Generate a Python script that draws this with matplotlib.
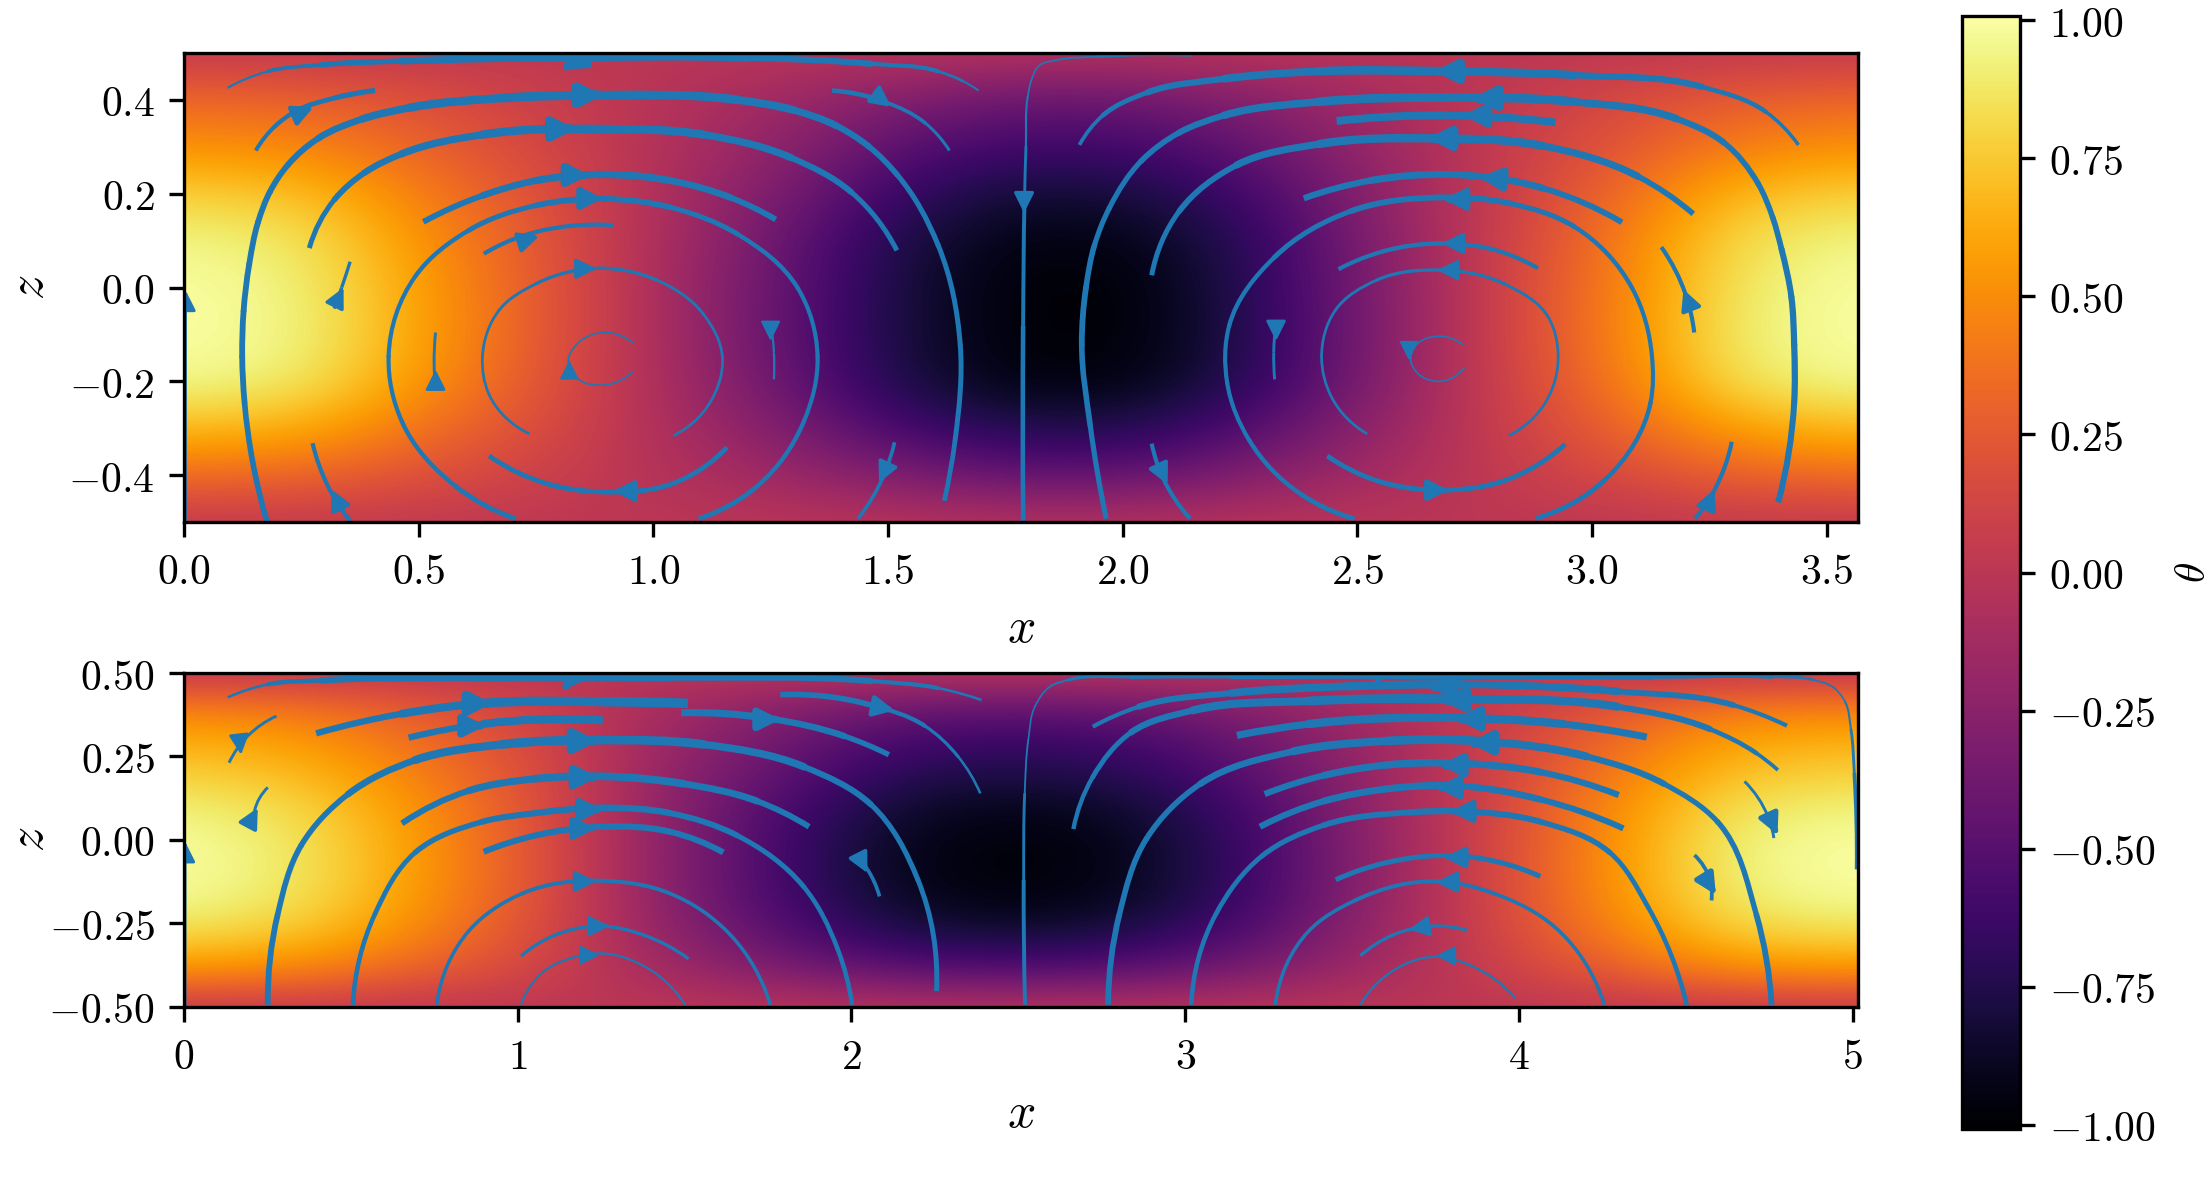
import numpy as np
import matplotlib
matplotlib.use('Agg')
import matplotlib.pyplot as plt
from matplotlib.path import Path
from matplotlib.patches import PathPatch, FancyArrowPatch

plt.rcParams['mathtext.fontset'] = 'cm'
plt.rcParams['font.family'] = 'serif'
plt.rcParams['font.size'] = 10

line_col = '#1f77b4'

# domain sizes
xmax_top = 3.567
xmax_bot = 5.016
theta_lim = 1.008

# theta, rows z=0.5 ... -0.5, 15 columns across x
theta_top = [
    [.03, .03, .02, .01, 0, -.01, -.02, -.03, -.03, -.02, -.01, 0, .01, .03, .03],
    [.33, .30, .19, .08, -.03, -.15, -.30, -.42, -.40, -.26, -.10, .03, .15, .28, .33],
    [.52, .48, .30, .13, -.05, -.23, -.50, -.62, -.60, -.42, -.16, .05, .23, .44, .52],
    [.78, .72, .43, .19, -.07, -.33, -.66, -.84, -.80, -.58, -.22, .07, .33, .70, .78],
    [.95, .88, .52, .23, -.09, -.41, -.78, -.96, -.93, -.67, -.27, .09, .41, .85, .95],
    [1.0, .93, .57, .25, -.10, -.44, -.80, -1.0, -.98, -.69, -.29, .10, .44, .90, 1.0],
    [1.0, .95, .58, .25, -.10, -.45, -.80, -1.0, -.98, -.70, -.30, .10, .45, .93, 1.0],
    [.97, .90, .53, .23, -.09, -.41, -.78, -.97, -.95, -.68, -.28, .09, .41, .88, .97],
    [.70, .64, .38, .17, -.07, -.30, -.60, -.76, -.74, -.50, -.20, .07, .30, .60, .70],
    [.35, .32, .20, .09, -.04, -.16, -.32, -.46, -.44, -.28, -.11, .04, .16, .30, .35],
    [.03, .03, .02, .01, 0, -.01, -.02, -.03, -.03, -.02, -.01, 0, .01, .03, .03],
]
theta_bot = [
    [.03, .03, .02, .01, -.01, -.02, -.03, -.03, -.03, -.02, -.01, 0, .02, .03, .03],
    [.42, .37, .23, .08, -.11, -.25, -.39, -.42, -.38, -.25, -.08, .06, .23, .40, .42],
    [.64, .56, .35, .13, -.16, -.38, -.59, -.64, -.58, -.38, -.13, .10, .35, .61, .64],
    [.78, .69, .43, .16, -.20, -.47, -.72, -.78, -.70, -.47, -.16, .12, .43, .74, .78],
    [.92, .81, .51, .18, -.23, -.55, -.85, -.92, -.83, -.55, -.18, .14, .51, .87, .92],
    [.99, .87, .54, .20, -.25, -.59, -.91, -.99, -.89, -.59, -.20, .15, .54, .94, .99],
    [1.0, .88, .55, .20, -.25, -.60, -.92, -1.0, -.90, -.60, -.20, .15, .55, .95, 1.0],
    [.95, .84, .52, .19, -.24, -.57, -.87, -.95, -.86, -.57, -.19, .14, .52, .90, .95],
    [.78, .69, .43, .16, -.20, -.47, -.72, -.78, -.70, -.47, -.16, .12, .43, .74, .78],
    [.48, .42, .26, .10, -.12, -.29, -.44, -.48, -.43, -.29, -.10, .07, .26, .46, .48],
    [.04, .04, .02, .01, -.01, -.02, -.04, -.04, -.03, -.02, -.01, .01, .02, .04, .04],
]

# streamlines, each row is x, z, width in points
t01 = [(.093,.426,.4),(.179,.461,.7),(.293,.475,1.1),(.464,.483,1.5),(.8,.49,1.9),(1.2,.49,1.8),(1.464,.477,1.2),(1.607,.461,.8),(1.66,.44,.55),(1.693,.42,.45)]
t02 = [(.153,.292,.9),(.193,.343,1.0),(.236,.375,1.1),(.321,.404,1.2),(.407,.42,1.3)]
t03 = [(.177,-.5,1.3),(.129,-.245,1.4),(.124,-.147,1.4),(.127,-.05,1.4),(.139,.05,1.4),(.158,.14,1.4),(.183,.204,1.4),(.221,.261,1.4),(.286,.318,1.5),(.379,.359,1.7),(.479,.383,1.9),(.679,.404,2.1),
       (.893,.41,2.2),(1.18,.40,2.0),(1.30,.378,1.8),(1.39,.345,1.6),(1.46,.30,1.4),(1.52,.24,1.3),(1.607,.09,1.2),(1.654,-.122,1.2),(1.643,-.326,1.2),(1.62,-.455,1.1)]
t04 = [(.267,.084,1.1),(.321,.188,1.3),(.385,.245,1.5),(.464,.285,1.6),(.636,.326,1.9),(.893,.338,2.1),(1.107,.326,1.9),(1.293,.277,1.6),(1.421,.204,1.3),(1.519,.079,1.1)]
t05 = [(.51,.14,1.3),(.636,.196,1.5),(.75,.228,1.7),(.893,.241,1.8),(1.036,.228,1.7),(1.164,.192,1.5),(1.261,.145,1.3)]
t06 = [(1.097,-.493,1.2),(1.221,-.424,1.1),(1.321,-.285,1.0),(1.35,-.147,1.0),(1.307,0,1.0),(1.179,.114,1.1),(1.036,.171,1.3),(.893,.189,1.5),
       (.75,.175,1.3),(.607,.122,1.1),(.493,.024,1.0),(.436,-.147,1.0),(.464,-.285,1.0),(.579,-.424,1.1),(.707,-.493,1.2)]
t07 = [(.639,.072,1.0),(.721,.11,1.0),(.821,.131,1.0),(.914,.133,1.0)]
t08 = [(.736,-.312,.65),(.65,-.228,.65),(.636,-.147,.65),(.671,-.049,.65),(.75,.008,.75),(.893,.041,.85),(1.007,.016,.75),(1.107,-.057,.65),(1.147,-.147,.65),(1.121,-.245,.65),(1.043,-.316,.65)]
t09 = [(.957,-.118,.4),(.893,-.096,.4),(.836,-.122,.4),(.819,-.155,.4),(.836,-.192,.4),(.893,-.208,.4),(.957,-.179,.4)]
t10 = [(.536,-.096,.7),(.533,-.163,.7),(.536,-.216,.7)]
t11 = [(.354,.055,.8),(.336,0,.8),(.32,-.045,.8)]
t12 = [(1.257,-.196,.55),(1.257,-.139,.55),(1.25,-.073,.55)]
t13 = [(1.381,.42,1.2),(1.493,.396,1.0),(1.579,.351,.8),(1.631,.292,.65)]
t14 = [(.274,-.332,1.0),(.307,-.424,1.0),(.354,-.498,1.0)]
t15 = [(1.514,-.33,.9),(1.493,-.396,.9),(1.436,-.493,.9)]
t16 = [(.65,-.359,1.1),(.779,-.42,1.2),(.907,-.436,1.2),(1.036,-.42,1.2),(1.157,-.341,1.1)]
t17 = [(2.148,.495,.8),(1.944,.492,.5),(1.86,.485,.4),(1.822,.473,.4),(1.805,.44,.4),(1.798,.408,.45),(1.794,.3,.6),(1.791,.188,.8),(1.788,-.082,1.1),(1.788,-.498,1.1)]
t18 = [(1.908,.304,.8),(1.958,.367,1.0),(2.053,.416,1.3),(2.216,.445,1.7),(2.419,.461,2.0),(2.691,.461,2.1),(2.962,.453,1.8),(3.234,.428,1.3),(3.37,.375,.9),(3.44,.304,.8)]
t19 = [(3.397,-.458,1.4),(3.431,-.245,1.5),(3.431,-.122,1.5),(3.425,-.02,1.5),(3.404,.082,1.4),(3.385,.15,1.35),(3.355,.22,1.3),(3.28,.31,1.4),(3.18,.36,1.6),(2.962,.396,2.0),(2.691,.405,2.2),
       (2.419,.396,2.0),(2.216,.367,1.6),(2.12,.33,1.4),(2.04,.27,1.3),(1.972,.17,1.2),(1.94,.09,1.3),(1.922,0,1.4),(1.913,-.122,1.4),(1.931,-.294,1.3),(1.965,-.493,1.2)]
t20 = [(2.456,.355,1.9),(2.691,.367,1.9),(2.922,.352,1.8)]
t21 = [(2.062,.026,1.1),(2.121,.163,1.3),(2.243,.261,1.5),(2.419,.306,1.9),(2.664,.318,2.1),(2.895,.302,1.9),(3.098,.237,1.5),(3.216,.157,1.2)]
t22 = [(2.386,.19,1.4),(2.528,.228,1.6),(2.691,.241,1.8),(2.895,.212,1.5),(3.064,.139,1.3)]
t23 = [(2.881,-.492,1.2),(3.03,-.408,1.1),(3.125,-.245,1.0),(3.128,-.147,1.0),(3.085,0,1.0),(2.962,.13,1.1),(2.827,.179,1.3),(2.677,.192,1.5),
       (2.487,.163,1.3),(2.324,.065,1.1),(2.227,-.082,1.0),(2.223,-.204,1.0),(2.27,-.326,1.0),(2.379,-.44,1.1),(2.494,-.493,1.2)]
t24 = [(2.46,.039,1.0),(2.555,.077,1.0),(2.677,.094,1.1),(2.786,.082,1.0),(2.885,.041,1.0)]
t25 = [(2.521,-.312,.65),(2.447,-.237,.65),(2.424,-.147,.65),(2.453,-.049,.65),(2.542,.016,.75),(2.677,.037,.85),(2.813,.008,.75),(2.908,-.065,.65),(2.928,-.147,.65),(2.901,-.245,.65),(2.823,-.316,.65)]
t26 = [(2.725,-.122,.4),(2.677,-.104,.4),(2.623,-.126,.4),(2.614,-.155,.4),(2.63,-.184,.4),(2.677,-.2,.4),(2.728,-.171,.4)]
t27 = [(2.324,-.196,.7),(2.322,-.139,.7),(2.327,-.073,.7)]
t28 = [(3.148,.086,1.0),(3.2,-.016,1.0),(3.218,-.096,1.0)]
t29 = [(3.298,-.329,1.0),(3.261,-.432,1.0),(3.22,-.493,1.0)]
t30 = [(2.062,-.333,1.0),(2.087,-.408,1.0),(2.144,-.493,1.0)]
t31 = [(2.436,-.359,1.1),(2.542,-.412,1.2),(2.677,-.432,1.2),(2.813,-.412,1.2),(2.943,-.334,1.1)]
t32 = [(.003,-.5,.7),(.003,-.25,.7),(.003,-.03,.7)]
top_lines = [t01,t02,t03,t04,t05,t06,t07,t08,t09,t10,t11,t12,t13,t14,t15,t16,t17,t18,t19,t20,t21,t22,t23,t24,t25,t26,t27,t28,t29,t30,t31,t32]

# arrow heads: x tail, z tail, x tip, z tip, width
top_arrows = [(.85,.49,.805,.465,1.9),(.23,.365,.276,.385,1.1),(.83,.41,.893,.41,2.2),(.78,.338,.835,.338,2.1),(.81,.24,.864,.24,1.8),
              (.84,.19,.893,.19,1.5),(.71,.095,.757,.11,1.0),(.83,.04,.879,.04,.85),(.821,-.21,.821,-.155,.4),(.536,-.23,.536,-.175,.7),
              (.313,-.055,.34,0,.8),(1.25,-.06,1.25,-.114,.55),(1.46,.42,1.507,.385,1.0),(.338,-.48,.314,-.43,1.0),(1.505,-.365,1.481,-.416,.9),
              (.967,-.434,.914,-.434,1.2),(1.79,.21,1.79,.159,.8),(2.72,.461,2.664,.461,2.1),(2.8,.404,2.745,.404,2.2),(2.78,.367,2.725,.367,1.9),
              (2.705,.318,2.65,.318,2.1),(2.82,.23,2.76,.235,1.8),(2.74,.188,2.684,.188,1.5),(2.74,.094,2.68,.094,1.1),(2.725,.037,2.67,.037,.85),
              (2.61,-.1,2.61,-.155,.4),(2.327,-.06,2.327,-.114,.7),(3.215,-.055,3.195,-.004,1.0),(3.24,-.48,3.261,-.43,1.0),(2.072,-.37,2.096,-.42,1.0),
              (2.64,-.432,2.695,-.432,1.2),(.004,-.06,.004,-.007,.7)]

b01 = [(.131,.427,.45),(.251,.466,.8),(.412,.478,1.3),(.853,.486,1.75),(1.456,.486,1.75),(2.058,.476,1.2),(2.259,.455,.8),(2.39,.419,.45)]
b02 = [(.135,.231,.7),(.191,.311,.7),(.277,.371,.7)]
b03 = [(.396,.319,1.3),(.653,.378,1.75),(.894,.409,2.1),(1.255,.414,2.3),(1.51,.409,2.3)]
b04 = [(.673,.306,1.3),(.894,.347,1.75),(1.255,.358,2.1)]
b05 = [(1.49,.381,1.75),(1.757,.363,1.7),(1.978,.311,1.4),(2.112,.255,1.2)]
b06 = [(1.787,.435,1.5),(2.058,.404,1.2),(2.219,.342,.85),(2.319,.25,.7),(2.386,.139,.55)]
b07 = [(.251,-.495,1.4),(.281,-.223,1.4),(.351,-.017,1.3),(.492,.137,1.4),(.693,.239,1.8),(.954,.286,2.1),(1.255,.299,2.2),(1.556,.286,2.0),(1.857,.219,1.6),(2.058,.106,1.3),(2.199,-.12,1.2),(2.255,-.454,1.2)]
b08 = [(.653,.049,1.3),(.853,.147,1.6),(1.054,.183,1.8),(1.255,.19,1.9),(1.496,.168,1.8),(1.717,.116,1.5),(1.873,.039,1.3)]
b09 = [(.506,-.495,1.1),(.572,-.223,1.1),(.693,-.038,1.2),(.894,.054,1.4),(1.054,.08,1.5),(1.255,.096,1.6),(1.456,.08,1.5),(1.657,.013,1.3),(1.857,-.141,1.1),(1.958,-.326,1.1),(2.002,-.495,1.1)]
b10 = [(.898,-.036,1.4),(1.054,.013,1.5),(1.255,.039,1.5),(1.456,.024,1.5),(1.616,-.038,1.4)]
b11 = [(.757,-.495,.85),(.853,-.274,.85),(1.014,-.161,.9),(1.255,-.123,1.0),(1.456,-.161,.9),(1.637,-.285,.85),(1.757,-.495,.85)]
b12 = [(1.01,-.349,.8),(1.114,-.285,.8),(1.255,-.259,.85),(1.375,-.285,.8),(1.512,-.357,.8)]
b13 = [(1.01,-.495,.5),(1.074,-.398,.5),(1.175,-.351,.55),(1.255,-.341,.55),(1.375,-.377,.5),(1.502,-.495,.5)]
b14 = [(.251,.157,.7),(.211,.085,.7),(.211,.029,.7)]
b15 = [(2.084,-.17,.9),(2.048,-.089,.9),(2.025,-.058,.9)]
b16 = [(.003,-.5,.7),(.003,-.25,.7),(.003,-.05,.7)]
b17 = [(2.52,-.495,1.0),(2.516,-.12,.9),(2.519,.137,.5),(2.53,.3,.4),(2.55,.40,.4),(2.596,.46,.4),(2.653,.48,.6),(2.838,.489,1.0),(3.139,.491,1.4),(3.8,.491,1.6),(4.4,.489,1.3),
       (4.757,.489,.8),(4.88,.48,.5),(4.945,.455,.4),(4.977,.414,.4),(4.995,.33,.6),(5.005,.2,.8),(5.012,-.089,1.0)]
b19 = [(2.723,.339,.8),(2.861,.399,1.2),(3.139,.44,1.75),(3.486,.46,2.0),(3.832,.466,2.0),(4.295,.445,1.6),(4.642,.404,1.2),(4.803,.342,.8)]
b20 = [(2.665,.032,1.0),(2.723,.188,1.1),(2.838,.322,1.3),(3.023,.388,1.75),(3.37,.416,2.1),(3.832,.422,2.2),(4.295,.399,1.75),(4.572,.332,1.2),(4.711,.26,1.0),(4.776,.209,.8)]
b21 = [(3.155,.313,1.6),(3.37,.347,1.9),(3.832,.365,2.1),(4.133,.347,1.85),(4.383,.308,1.6)]
b22 = [(2.769,-.495,1.4),(2.803,-.223,1.4),(2.884,.003,1.3),(3.046,.168,1.4),(3.324,.265,1.75),(3.601,.296,2.1),(3.879,.296,2.1),(4.202,.25,1.7),(4.434,.168,1.3),(4.595,.054,1.2),(4.711,-.223,1.4),(4.757,-.495,1.4)]
b23 = [(3.238,.137,1.4),(3.416,.193,1.6),(3.601,.224,1.8),(3.832,.229,1.8),(4.064,.203,1.6),(4.299,.134,1.4)]
b24 = [(3.224,.039,1.4),(3.416,.116,1.6),(3.601,.152,1.7),(3.809,.162,1.7),(4.064,.121,1.5),(4.313,.034,1.4)]
b25 = [(3.018,-.495,1.1),(3.092,-.223,1.1),(3.231,-.048,1.2),(3.416,.044,1.3),(3.671,.082,1.5),(3.832,.085,1.5),(4.064,.054,1.4),(4.272,-.038,1.2),(4.387,-.202,1.1),(4.503,-.495,1.1)]
b26 = [(3.451,-.12,1.2),(3.601,-.069,1.2),(3.809,-.048,1.2),(4.064,-.11,1.2)]
b27 = [(3.27,-.495,.85),(3.37,-.274,.85),(3.509,-.182,.9),(3.763,-.125,1.0),(3.925,-.161,.9),(4.11,-.264,.85),(4.256,-.495,.85)]
b28 = [(3.525,-.348,.8),(3.624,-.285,.8),(3.74,-.259,.8),(3.844,-.271,.8)]
b29 = [(3.525,-.495,.55),(3.601,-.408,.55),(3.763,-.351,.55),(3.855,-.377,.55),(3.99,-.475,.55)]
b30 = [(4.676,.175,.7),(4.746,.07,.7),(4.764,.005,.7)]
b31 = [(4.526,-.046,.9),(4.572,-.12,.9),(4.577,-.182,.9)]
bot_lines = [b01,b02,b03,b04,b05,b06,b07,b08,b09,b10,b11,b12,b13,b14,b15,b16,b17,b19,b20,b21,b22,b23,b24,b25,b26,b27,b28,b29,b30,b31]

bot_arrows = [(1.17,.49,1.135,.45,1.75),(.165,.31,.171,.255,.7),(.85,.409,.924,.409,2.1),(.84,.342,.904,.342,1.75),(1.72,.361,1.787,.361,1.7),
              (2.06,.402,2.129,.388,1.2),(1.17,.296,1.241,.296,2.2),(1.17,.188,1.241,.188,1.9),(1.18,.09,1.255,.09,1.6),(1.16,.034,1.235,.034,1.5),
              (1.165,-.125,1.235,-.125,1.0),(1.205,-.259,1.275,-.259,.85),(1.17,-.346,1.245,-.346,.55),(.191,.04,.221,.096,.9),(2.02,-.045,2.048,-.1,.9),
              (.004,-.07,.004,-.007,.7),(3.59,.505,3.573,.465,1.6),(3.8,.46,3.728,.46,2.0),(3.84,.42,3.763,.419,2.2),(3.89,.363,3.809,.363,2.1),
              (3.92,.291,3.849,.291,2.1),(3.84,.224,3.763,.224,1.8),(3.825,.157,3.751,.157,1.7),(3.87,.085,3.793,.085,1.5),(3.85,-.053,3.775,-.053,1.2),
              (3.82,-.127,3.751,-.127,1.0),(3.73,-.259,3.67,-.269,.8),(3.815,-.348,3.751,-.348,.55),(4.75,.07,4.775,.015,1.2),(4.55,-.1,4.59,-.165,1.3)]

x_ticks_top = [0, .5, 1, 1.5, 2, 2.5, 3, 3.5]
x_labels_top = ['$0.0$', '$0.5$', '$1.0$', '$1.5$', '$2.0$', '$2.5$', '$3.0$', '$3.5$']
z_ticks_top = [-.4, -.2, 0, .2, .4]
z_labels_top = ['$-0.4$', '$-0.2$', '$0.0$', '$0.2$', '$0.4$']
x_ticks_bot = [0, 1, 2, 3, 4, 5]
x_labels_bot = ['$0$', '$1$', '$2$', '$3$', '$4$', '$5$']
z_ticks_bot = [-.5, -.25, 0, .25, .5]
z_labels_bot = ['$-0.50$', '$-0.25$', '$0.00$', '$0.25$', '$0.50$']
cb_ticks = [-1, -.75, -.5, -.25, 0, .25, .5, .75, 1]
cb_labels = ['$-1.00$', '$-0.75$', '$-0.50$', '$-0.25$', '$0.00$', '$0.25$', '$0.50$', '$0.75$', '$1.00$']


def tangents(xy):
    # direction at each read point, nearer neighbour counts more
    n = len(xy)
    t = np.zeros_like(xy)
    for i in range(1, n - 1):
        a = xy[i] - xy[i - 1]
        b = xy[i + 1] - xy[i]
        da, db = np.hypot(*a), np.hypot(*b)
        t[i] = a / da * db + b / db * da
        t[i] /= np.hypot(*t[i])
    for i, j, k in ((0, 1, 1), (n - 1, n - 2, n - 2)):
        c = xy[i] - xy[j] if i else xy[j] - xy[i]
        c = c / np.hypot(*c)
        t[i] = 2 * c - t[k] if n > 2 else c
        t[i] /= np.hypot(*t[i])
    return t


def draw_stream(ax, pts):
    # bezier piece between each pair of read points, one lw per piece
    pts = np.array(pts, dtype=float)
    xy = pts[:, :2]
    t = tangents(xy)
    n = len(pts)
    for i in range(n - 1):
        d = np.hypot(*(xy[i + 1] - xy[i])) * .34
        p = Path([xy[i], xy[i] + t[i] * d, xy[i + 1] - t[i + 1] * d, xy[i + 1]],
                 [Path.MOVETO, Path.CURVE4, Path.CURVE4, Path.CURVE4])
        cap = 'butt' if i == 0 or i == n - 2 else 'round'
        ax.add_patch(PathPatch(p, fc='none', ec=line_col, lw=(pts[i, 2] + pts[i + 1, 2]) / 2, capstyle=cap))


def draw_panel(ax, theta, xmax, lines, arrows):
    theta = np.array(theta)
    dx = xmax / (theta.shape[1] - 1)
    dz = 1.0 / (theta.shape[0] - 1)
    im = ax.imshow(theta, cmap='inferno', vmin=-theta_lim, vmax=theta_lim, aspect='auto', interpolation='bicubic',
                   interpolation_stage='data', extent=(-dx / 2, xmax + dx / 2, -.5 - dz / 2, .5 + dz / 2))
    for pts in lines:
        draw_stream(ax, pts)
    for x0, z0, x1, z1, w in arrows:
        # only the direction of the tail matters, keep it inside the head
        ax.add_patch(FancyArrowPatch((x1 + (x0 - x1) * .3, z1 + (z0 - z1) * .3), (x1, z1), arrowstyle='-|>',
                                     mutation_scale=10, lw=w, color=line_col, shrinkA=0, shrinkB=0))
    ax.set_xlim(0, xmax)
    ax.set_ylim(-.5, .5)
    ax.set_xlabel('$x$', fontsize=12, labelpad=2.6)
    ax.set_ylabel('$z$', fontsize=12)
    ax.yaxis.set_label_coords(-.0776, .5)
    return im


W, H = 2210, 1177
fig = plt.figure(figsize=(W / 300, H / 300), dpi=300)
ax1 = fig.add_axes([184 / W, 1 - 522 / H, 1674 / W, 469 / H])
ax2 = fig.add_axes([184 / W, 1 - 1006.5 / H, 1674 / W, 333.5 / H])
cax = fig.add_axes([1962 / W, 1 - 1129 / H, 57.5 / W, 1113 / H])

im = draw_panel(ax1, theta_top, xmax_top, top_lines, top_arrows)
draw_panel(ax2, theta_bot, xmax_bot, bot_lines, bot_arrows)
ax1.set_xticks(x_ticks_top, x_labels_top)
ax1.set_yticks(z_ticks_top, z_labels_top)
ax2.set_xticks(x_ticks_bot, x_labels_bot)
ax2.set_yticks(z_ticks_bot, z_labels_bot)

cb = fig.colorbar(im, cax=cax)
cb.set_ticks(cb_ticks, labels=cb_labels)
cb.set_label('$\\theta$', fontsize=10)
cax.yaxis.set_label_coords(3.66, .5)

plt.savefig('out.png', dpi=300)
